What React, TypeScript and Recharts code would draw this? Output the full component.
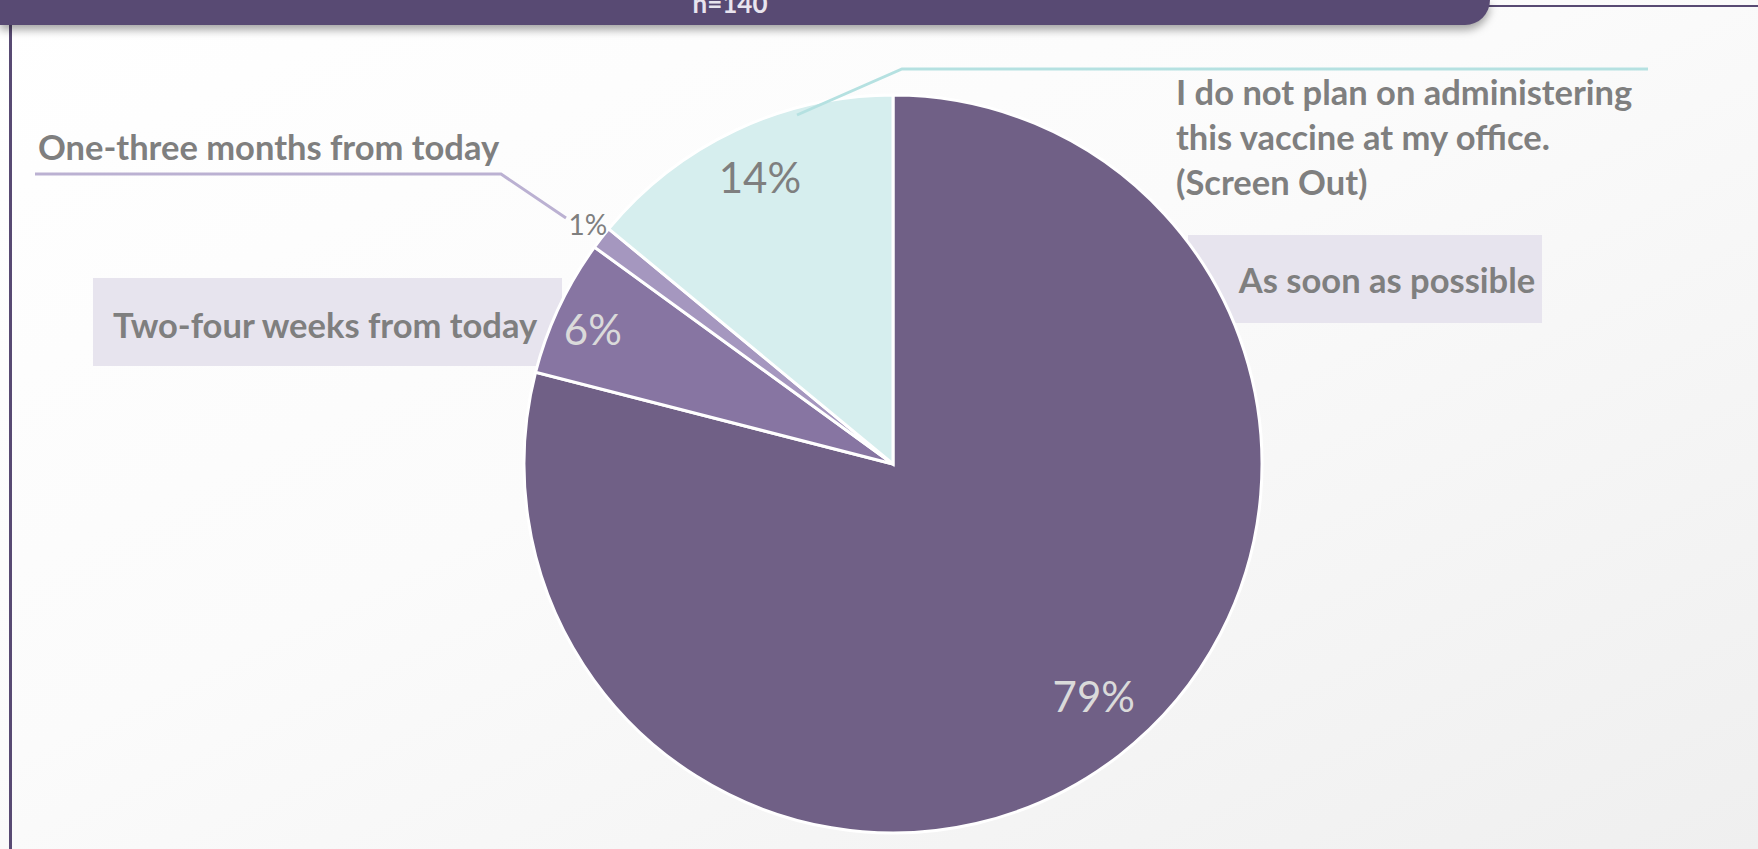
import React from 'react';
import { PieChart, Pie, Cell } from 'recharts';

// ---------- data ----------
const categories = [
  'As soon as possible',
  'Two-four weeks from today',
  'One-three months from today',
  'I do not plan on administering this vaccine at my office. (Screen Out)',
];
const categoryLines = [
  ['As soon as possible'],
  ['Two-four weeks from today'],
  ['One-three months from today'],
  ['I do not plan on administering', 'this vaccine at my office.', '(Screen Out)'],
];
const values = [79, 6, 1, 14];
const sampleLabel = 'n=140';

// ---------- styles ----------
const sliceColors = ['#706086', '#8775A2', '#A597BF', '#D6EEEE'];
const pctColors = ['#DADADA', '#DADADA', '#7F7F7F', '#7F7F7F'];
const pctSizes = [42, 42, 28, 42];
const pctRadius = [0.83, 0.875, 1.05, 0.86];
const pctNudge: [number, number][] = [[13, -10], [-8, 2], [1, -3], [2, 0]];
const labelGray = '#7F7F7F';
const headerPurple = '#584A73';
const FONT = 'Lato, "Open Sans", sans-serif';
const CX = 888;
const CY = 459;
const R = 369;

const data = categories.map((name, i) => ({ name, value: values[i] }));

// Layout of category labels relative to pie centre (px)
type Layout = {
  box?: [number, number, number, number];
  text: [number, number];
  anchor: 'start' | 'middle' | 'end';
  leader?: [number, number][];
  leaderColor?: string;
};
const layouts: Layout[] = [
  { box: [295, -229, 649, -141], text: [494, -171], anchor: 'middle' },
  { box: [-800, -186, -331, -98], text: [-568, -126], anchor: 'middle' },
  {
    text: [-855, -304],
    anchor: 'start',
    leader: [[-858, -290], [-392, -290], [-327, -246]],
    leaderColor: '#BBB1D2',
  },
  {
    text: [283, -359],
    anchor: 'start',
    leader: [[-96, -349], [9, -395], [755, -395]],
    leaderColor: '#B5E1E1',
  },
];

const CategoryLabel = (props: any) => {
  const { cx, cy, index } = props;
  const L = layouts[index];
  const lines = categoryLines[index];
  return (
    <g>
      {L.box && (
        <rect
          x={cx + L.box[0]}
          y={cy + L.box[1]}
          width={L.box[2] - L.box[0]}
          height={L.box[3] - L.box[1]}
          fill="#E7E4EE"
        />
      )}
      {lines.map((ln, k) => (
        <text
          key={k}
          x={cx + L.text[0]}
          y={cy + L.text[1] + k * 45}
          textAnchor={L.anchor}
          fill={labelGray}
          fontFamily={FONT}
          fontWeight={700}
          fontSize={34.5}
        >
          {ln}
        </text>
      ))}
    </g>
  );
};

const RAD = Math.PI / 180;
const PctLabel = (props: any) => {
  const { cx, cy, midAngle, outerRadius, index, value } = props;
  const L = layouts[index];
  const r = outerRadius * pctRadius[index];
  const x = cx + r * Math.cos(-midAngle * RAD) + pctNudge[index][0];
  const y = cy + r * Math.sin(-midAngle * RAD) + pctNudge[index][1];
  return (
    <g>
      {L.leader && (
        <polyline
          points={L.leader.map(([dx, dy]) => `${cx + dx},${cy + dy}`).join(' ')}
          fill="none"
          stroke={L.leaderColor}
          strokeWidth={3}
        />
      )}
      <text
        x={x}
        y={y}
        textAnchor="middle"
        dominantBaseline="central"
        fill={pctColors[index]}
        fontFamily={FONT}
        fontSize={pctSizes[index]}
      >
        {`${value}%`}
      </text>
    </g>
  );
};

export default function App() {
  return (
    <div
      style={{
        position: 'absolute',
        left: 0,
        top: 0,
        width: 1758,
        height: 849,
        overflow: 'hidden',
        background: 'linear-gradient(to bottom right, #ffffff 0%, #fbfbfb 45%, #efefef 100%)',
      }}
    >
      {/* back layer: category labels and boxes */}
      <div style={{ position: 'absolute', left: 0, top: 0 }}>
        <PieChart width={1758} height={849}>
          <Pie
            data={data}
            dataKey="value"
            nameKey="name"
            cx={CX}
            cy={CY}
            outerRadius={R}
            startAngle={90}
            endAngle={-270}
            fill="none"
            stroke="none"
            label={CategoryLabel}
            labelLine={false}
            isAnimationActive={false}
          >
            {data.map((d, i) => (
              <Cell key={i} fill="none" stroke="none" />
            ))}
          </Pie>
        </PieChart>
      </div>
      {/* front layer: slices, leader lines and percentages */}
      <div style={{ position: 'absolute', left: 0, top: 0 }}>
        <PieChart width={1758} height={849}>
          <Pie
            data={data}
            dataKey="value"
            nameKey="name"
            cx={CX}
            cy={CY}
            outerRadius={R}
            startAngle={90}
            endAngle={-270}
            stroke="#ffffff"
            strokeWidth={3}
            label={PctLabel}
            labelLine={false}
            isAnimationActive={false}
          >
            {data.map((d, i) => (
              <Cell key={i} fill={sliceColors[i]} />
            ))}
          </Pie>
        </PieChart>
      </div>
      {/* header */}
      <div
        style={{
          position: 'absolute',
          left: 1470,
          top: 5,
          width: 288,
          height: 2,
          background: headerPurple,
        }}
      />
      <div
        style={{
          position: 'absolute',
          left: 9,
          top: 20,
          width: 3,
          height: 829,
          background: headerPurple,
        }}
      />
      <div
        style={{
          position: 'absolute',
          left: 0,
          top: 0,
          width: 1490,
          height: 25,
          background: headerPurple,
          borderBottomRightRadius: 28,
          boxShadow: '0 5px 8px rgba(0,0,0,0.35)',
        }}
      />
      <svg width={1758} height={30} style={{ position: 'absolute', left: 0, top: 0 }}>
        <text
          x={730}
          y={13}
          textAnchor="middle"
          fill="#E8E4EE"
          fontFamily={FONT}
          fontWeight={700}
          fontSize={26}
        >
          {sampleLabel}
        </text>
      </svg>
    </div>
  );
}
